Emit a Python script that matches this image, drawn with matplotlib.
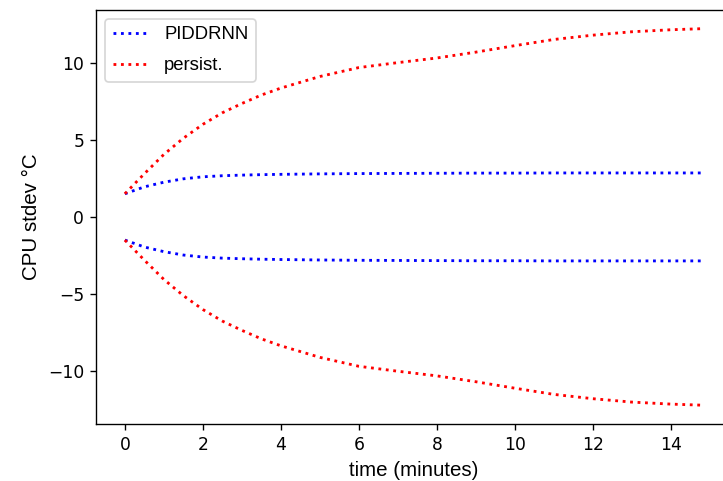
import matplotlib
matplotlib.use("Agg")
import matplotlib.pyplot as plt
import numpy as np

# forecast horizon (minutes) and spread of the CPU temperature error
minutes = [0, 0.5, 1, 1.5, 2, 2.5, 3, 3.5, 4, 5, 6, 7, 8, 9, 10, 11, 12, 13, 14, 14.8]
piddrnn_std = [1.5, 1.95, 2.25, 2.47, 2.6, 2.67, 2.71, 2.74, 2.76, 2.79, 2.81, 2.82, 2.83,
               2.84, 2.84, 2.85, 2.85, 2.85, 2.85, 2.85]
persist_std = [1.5, 2.8, 4.05, 5.1, 6.0, 6.75, 7.35, 7.9, 8.35, 9.1, 9.68, 10.0, 10.3,
               10.68, 11.1, 11.5, 11.78, 12.0, 12.13, 12.2]

t = np.array(minutes)
s_pid = np.array(piddrnn_std)
s_per = np.array(persist_std)

label_font = dict(family='Liberation Sans', size=12)
legend_font = dict(family='Liberation Sans', size=10.8)

fig = plt.figure(figsize=(723 / 123, 481 / 123), dpi=123)
ax = fig.add_axes([0.1328, 0.1185, 0.878, 0.861])

ax.plot(t, s_pid, ':', color='b', lw=1.65, label='PIDDRNN')
ax.plot(t, s_per, ':', color='r', lw=1.65, label='persist.')
ax.plot(t, -s_pid, ':', color='b', lw=1.65)
ax.plot(t, -s_per, ':', color='r', lw=1.65)

ax.set_xticks([0, 2, 4, 6, 8, 10, 12, 14])
ax.set_yticks([-10, -5, 0, 5, 10])
ax.set_xlabel('time (minutes)', fontdict=label_font)
ax.set_ylabel('CPU stdev \u00b0C', fontdict=label_font)
ax.legend(loc='upper left', prop=legend_font, labelspacing=0.75)

fig.savefig('out.png', dpi=123)
